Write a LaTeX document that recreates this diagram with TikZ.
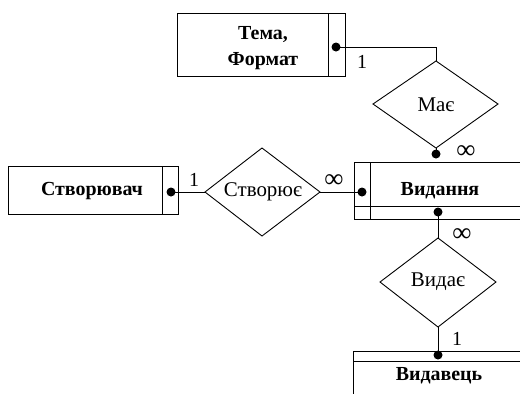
\documentclass[tikz,border=0pt]{standalone}
\usepackage{fontspec}
\setmainfont{Liberation Serif}
\begin{document}
\begin{tikzpicture}[x=1bp,y=-1bp,line width=0.9pt,
  ent/.style={font=\bfseries\fontsize{20}{26}\selectfont,inner sep=0pt},
  rel/.style={font=\fontsize{21}{24}\selectfont,inner sep=0pt},
  lbl/.style={font=\fontsize{20}{22}\selectfont,inner sep=0pt},
  inf/.style={font=\fontsize{27}{28}\selectfont,inner sep=0pt},
  dot/.style={circle,fill=black,inner sep=0pt,minimum size=9bp}]
\useasboundingbox (0,0) rectangle (520,393);
\clip (0,0) rectangle (520,393);
% Entity boxes
\draw (177,13) rectangle (345,76);
\draw (328,13) -- (328,76);
\node[ent,align=center] (tema) at (263,48) {Тема,\\Формат};

\draw (8,166) rectangle (178,214);
\draw (162,166) -- (162,214);
\node[ent] (stv) at (92,191) {Створювач};

\draw (354,162) rectangle (530,219);
\draw (370,162) -- (370,219);
\draw (354,206) -- (530,206);
\node[ent] (vyd) at (440,191) {Видання};

\draw (353,351) rectangle (530,400);
\draw (353,361) -- (530,361);
\node[ent] (vydv) at (439,376) {Видавець};

% Diamonds
\coordinate (mt) at (436,61); \coordinate (ml) at (373,104);
\coordinate (mr) at (498,104); \coordinate (mb) at (436,148);
\draw (mt) -- (mr) -- (mb) -- (ml) -- cycle;
\node[rel] (mae) at (436,105) {Має};

\coordinate (st) at (262,148); \coordinate (sl) at (205,192);
\coordinate (sr) at (320,192); \coordinate (sb) at (262,236);
\draw (st) -- (sr) -- (sb) -- (sl) -- cycle;
\node[rel] (stvr) at (263,192) {Створює};

\coordinate (vt) at (438,238); \coordinate (vl) at (380,282);
\coordinate (vr) at (496,282); \coordinate (vb) at (438,327);
\draw (vt) -- (vr) -- (vb) -- (vl) -- cycle;
\node[rel] (vydae) at (438,282) {Видає};

% Dots
\node[dot] (d1) at (336,47) {};
\node[dot] (d2) at (436,154) {};
\node[dot] (d3) at (171,192) {};
\node[dot] (d4) at (362,192) {};
\node[dot] (d5) at (438,212) {};
\node[dot] (d6) at (438,355) {};

% Connectors
\draw (d1.center) -| (mt);
\draw (mb) -- (d2.center);
\draw (d3.center) -- (sl);
\draw (sr) -- (d4.center);
\draw (d5.center) -- (vt);
\draw (vb) -- (d6.center);

% Labels
\node[lbl] (l1) at (362,62) {1};
\node[inf] (l2) at (466,152) {∞};
\node[lbl] (l3) at (194,180) {1};
\node[inf] (l4) at (334,181) {∞};
\node[inf] (l5) at (462,235) {∞};
\node[lbl] (l6) at (457,339) {1};
\end{tikzpicture}
\end{document}
